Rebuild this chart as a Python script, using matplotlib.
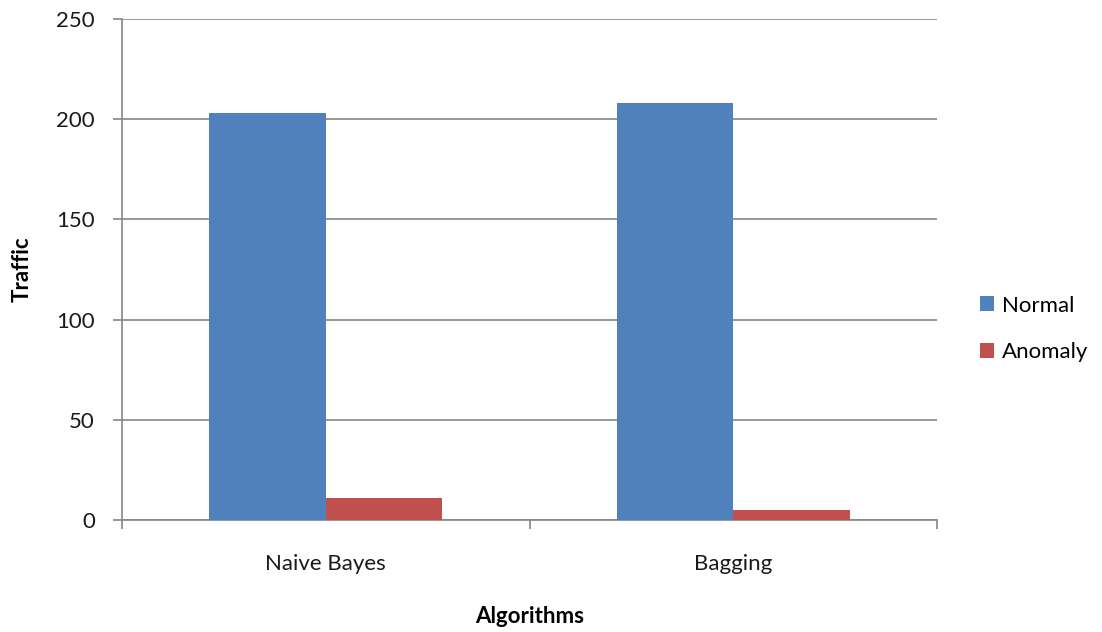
import matplotlib
matplotlib.use("Agg")
import matplotlib.pyplot as plt
from matplotlib.patches import Patch
import numpy as np

categories = ["Naive Bayes", "Bagging"]
normal = [203, 208]
anomaly = [11, 5]
series_names = ["Normal", "Anomaly"]
colors = ["#4F81BD", "#C0504D"]
y_ticks = [0, 50, 100, 150, 200, 250]

plt.rcParams["font.family"] = ["Lato", "DejaVu Sans"]

W, H = 1102, 632
fig = plt.figure(figsize=(W / 100, H / 100), dpi=100)
ax = fig.add_axes([122 / W, 1 - 520 / H, (937 - 122) / W, (520 - 19) / H])

x = np.arange(len(categories))
bw = 1 / 3.5
ax.bar(x - bw / 2, normal, width=bw, color=colors[0], zorder=3)
ax.bar(x + bw / 2, anomaly, width=bw, color=colors[1], zorder=3)

ax.set_xlim(-0.5, len(categories) - 0.5)
ax.set_ylim(0, 250)
ax.set_yticks(y_ticks)
ax.yaxis.grid(True, color="#868686", linewidth=1.2, zorder=0)
ax.set_axisbelow(True)

# category labels centred, tick marks on the boundaries
ax.set_xticks(np.arange(-0.5, len(categories), 1.0))
ax.set_xticklabels([])
ax.set_xticks(x, minor=True)
ax.set_xticklabels(categories, minor=True, fontsize=16, color="#1a1a1a")
ax.tick_params(axis="x", which="minor", length=0, pad=24.5)
ax.tick_params(axis="x", which="major", length=6.5, width=1.2, color="#868686")
ax.tick_params(axis="y", length=6.5, width=1.2, color="#868686", labelsize=16,
               labelcolor="#1a1a1a", pad=13)

for side in ["top", "right"]:
    ax.spines[side].set_visible(False)
for side in ["left", "bottom"]:
    ax.spines[side].set_color("#868686")
    ax.spines[side].set_linewidth(1.2)

ax.set_ylabel("Traffic", fontsize=16, fontweight="bold", labelpad=17)
ax.set_xlabel("Algorithms", fontsize=16, fontweight="bold", labelpad=23)

handles = [Patch(facecolor=c, edgecolor="none") for c in colors]
fig.legend(handles, series_names, loc="center left",
           bbox_to_anchor=(960 / W, 1 - 329 / H), frameon=False,
           fontsize=16, handlelength=0.65, handleheight=0.65,
           handletextpad=0.35, labelspacing=1.2)

fig.savefig("out.png", dpi=100, facecolor="white")
